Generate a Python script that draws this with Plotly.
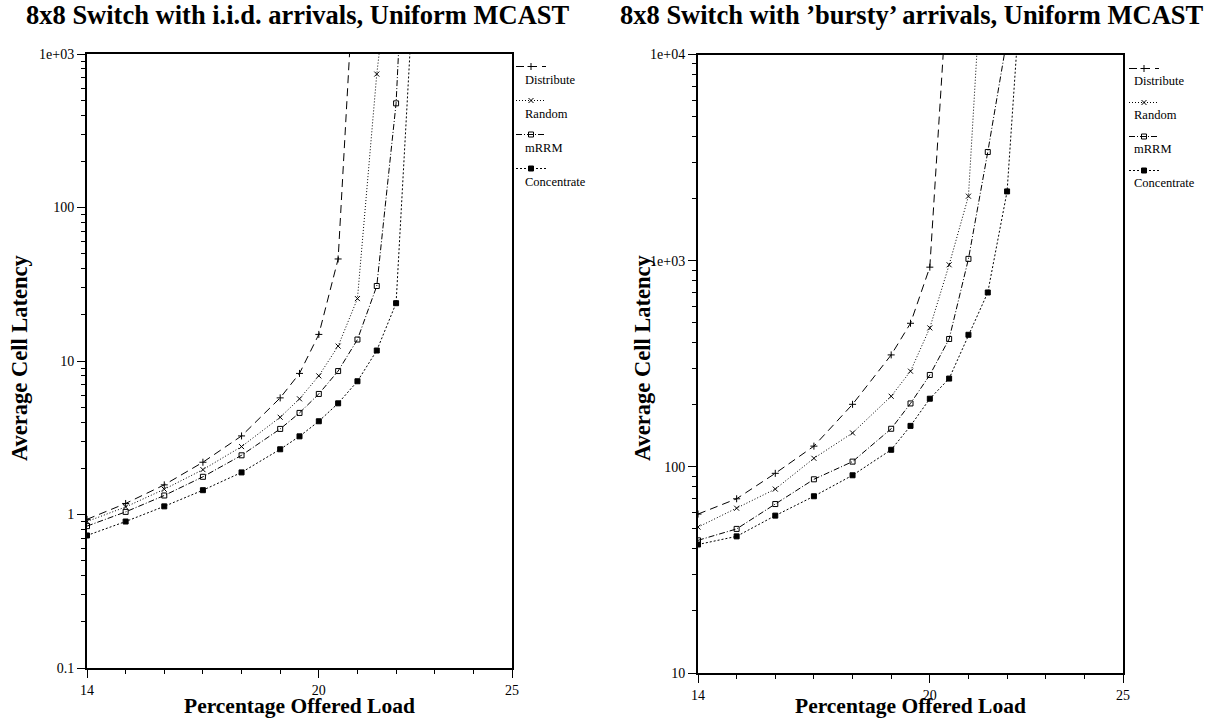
import plotly.graph_objects as go

# ---------------- data ----------------
load_pct = [14, 15, 16, 17, 18, 19, 19.5, 20, 20.5, 21, 21.5, 22, 22.5]

series_names = ["Distribute", "Random", "mRRM", "Concentrate"]

# i.i.d. arrivals (left panel)
iid_distribute = [0.93, 1.18, 1.56, 2.19, 3.25, 5.75, 8.3, 14.9, 46.2, 8500]
iid_random = [0.90, 1.12, 1.46, 1.96, 2.77, 4.3, 5.67, 8.0, 12.5, 25.5, 740, 9000]
iid_mrrm = [0.84, 1.04, 1.33, 1.76, 2.43, 3.61, 4.59, 6.1, 8.6, 13.8, 30.8, 477, 200000]
iid_concentrate = [0.73, 0.90, 1.13, 1.44, 1.88, 2.66, 3.23, 4.05, 5.3, 7.38, 11.7, 23.8, 4500]

# bursty arrivals (right panel)
bursty_distribute = [59, 70, 93, 126, 201, 349, 497, 930, 29000]
bursty_random = [51, 63, 78, 110, 146, 220, 291, 472, 955, 2055, 80000]
bursty_mrrm = [44, 50, 66, 87, 106, 153, 203, 279, 417, 1020, 3366, 12000]
bursty_concentrate = [42, 46, 58, 72, 91, 121, 158, 214, 268, 437, 701, 2167, 52000]

x_tickvals = [14, 20, 25]
x_ticktext = ["14", "20", "25"]
iid_y_tickvals = [0.1, 1, 10, 100, 1000]
iid_y_ticktext = ["0.1", "1", "10", "100", "1e+03"]
bursty_y_tickvals = [10, 100, 1000, 10000]
bursty_y_ticktext = ["10", "100", "1e+03", "1e+04"]

titles = ["8x8 Switch with i.i.d. arrivals, Uniform MCAST",
          "8x8 Switch with \u2019bursty\u2019 arrivals, Uniform MCAST"]
x_title = "Percentage Offered Load"
y_title = "Average Cell Latency"

# ---------------- styling ----------------
W, H = 1210, 719
FONT = "Liberation Serif"

styles = {
    "Distribute": dict(dash="8px,5px", symbol="cross-thin", size=5),
    "Random": dict(dash="1px,2px", symbol="x-thin", size=5),
    "mRRM": dict(dash="6px,2px,1px,2px", symbol="square-open", size=5),
    "Concentrate": dict(dash="2px,2px", symbol="square", size=5),
}


def px_x(p):
    return p / W


def px_y(p):
    return 1 - p / H


fig = go.Figure()

panels = [
    ("x", "y", "legend", [iid_distribute, iid_random, iid_mrrm, iid_concentrate]),
    ("x2", "y2", "legend2", [bursty_distribute, bursty_random, bursty_mrrm, bursty_concentrate]),
]

for xa, ya, lg, data in panels:
    for name, vals in zip(series_names, data):
        st = styles[name]
        fig.add_trace(go.Scatter(
            x=load_pct[:len(vals)], y=vals, mode="lines+markers",
            name=" ", legend=lg, legendgroup=lg + name,
            xaxis=xa, yaxis=ya, hovertext=name,
            line=dict(color="black", width=1, dash=st["dash"]),
            marker=dict(symbol=st["symbol"], size=st["size"], color="black",
                        line=dict(color="black", width=1)),
        ))

minor_x = dict(dtick=1, tick0=14, ticklen=4, ticks="outside", tickcolor="black", tickwidth=1)
minor_x_in = dict(dtick=1, tick0=14, ticklen=4, ticks="inside", tickcolor="black", tickwidth=1)
TICKFONT = dict(family=FONT, size=14, color="black")


def log_minor(lo, hi):
    vals = []
    for e in range(lo, hi):
        for m in range(2, 10):
            vals.append(m * 10 ** e)
    return vals


def xaxis_cfg(domain, anchor):
    return dict(domain=domain, anchor=anchor, range=[14, 25], tickmode="array",
                tickvals=x_tickvals, ticktext=x_ticktext, ticks="outside", ticklen=8,
                tickwidth=1, tickcolor="black", minor=minor_x, showgrid=False,
                zeroline=False, showline=True, linecolor="black", linewidth=2,
                mirror=True, tickfont=TICKFONT)


def xaxis_top(over, anchor):
    return dict(overlaying=over, anchor=anchor, side="top", range=[14, 25],
                tickmode="array", tickvals=x_tickvals, ticks="inside", ticklen=8,
                tickwidth=1, tickcolor="black", minor=minor_x_in, showticklabels=False,
                showgrid=False, zeroline=False, showline=False)


def yaxis_cfg(domain, anchor, rng, tv, tt):
    return dict(domain=domain, anchor=anchor, type="log", range=rng, tickmode="array",
                tickvals=tv, ticktext=tt, ticks="outside", ticklen=8, tickwidth=1,
                tickcolor="black",
                minor=dict(tickvals=log_minor(rng[0], rng[1]), ticks="outside", ticklen=4,
                           tickcolor="black", tickwidth=1),
                showgrid=False, zeroline=False, showline=True, linecolor="black",
                linewidth=2, mirror=True, tickfont=TICKFONT)


def yaxis_right(over, anchor, rng, tv):
    return dict(overlaying=over, anchor=anchor, side="right", type="log", range=rng,
                tickmode="array", tickvals=tv, ticks="inside", ticklen=8, tickwidth=1,
                tickcolor="black",
                minor=dict(tickvals=log_minor(rng[0], rng[1]), ticks="inside", ticklen=4,
                           tickcolor="black", tickwidth=1),
                showticklabels=False, showgrid=False, zeroline=False, showline=False)


L_dom_x = [px_x(87), px_x(512)]
R_dom_x = [px_x(698), px_x(1123)]
L_dom_y = [px_y(668), px_y(54)]
R_dom_y = [px_y(673), px_y(54.5)]

fig.update_layout(
    width=W, height=H,
    margin=dict(l=0, r=0, t=0, b=0, autoexpand=False),
    paper_bgcolor="white", plot_bgcolor="white",
    font=dict(family=FONT, color="black"),
    xaxis=xaxis_cfg(L_dom_x, "y"),
    yaxis=yaxis_cfg(L_dom_y, "x", [-1, 3], iid_y_tickvals, iid_y_ticktext),
    xaxis2=xaxis_cfg(R_dom_x, "y2"),
    yaxis2=yaxis_cfg(R_dom_y, "x2", [1, 4], bursty_y_tickvals, bursty_y_ticktext),
    xaxis3=xaxis_top("x", "y"),
    yaxis3=yaxis_right("y", "x", [-1, 3], iid_y_tickvals),
    xaxis4=xaxis_top("x2", "y2"),
    yaxis4=yaxis_right("y2", "x2", [1, 4], bursty_y_tickvals),
    legend=dict(x=px_x(511), y=px_y(52), xanchor="left", yanchor="top",
                bgcolor="rgba(0,0,0,0)", borderwidth=0, itemwidth=30,
                tracegroupgap=15, font=dict(family=FONT, size=11)),
    legend2=dict(x=px_x(1124), y=px_y(54), xanchor="left", yanchor="top",
                 bgcolor="rgba(0,0,0,0)", borderwidth=0, itemwidth=30,
                 tracegroupgap=15, font=dict(family=FONT, size=11)),
    showlegend=True,
)

annotations = []
# main titles
for cx, t in zip([298, 912], titles):
    annotations.append(dict(x=px_x(cx), y=px_y(15), xref="paper", yref="paper", text="<b>%s</b>" % t,
                            showarrow=False, font=dict(family=FONT, size=26.5, color="black"),
                            xanchor="center", yanchor="middle"))
# x titles
for cx in [299, 910]:
    annotations.append(dict(x=px_x(cx), y=px_y(706), xref="paper", yref="paper",
                            text="<b>%s</b>" % x_title, showarrow=False,
                            font=dict(family=FONT, size=21.5, color="black"),
                            xanchor="center", yanchor="middle"))
# y titles
for cx in [19, 642]:
    annotations.append(dict(x=px_x(cx), y=px_y(358), xref="paper", yref="paper",
                            text="<b>%s</b>" % y_title, showarrow=False, textangle=-90,
                            font=dict(family=FONT, size=22.5, color="black"),
                            xanchor="center", yanchor="middle"))
# legend labels
for lx, y0 in [(523, 80), (1132, 81)]:
    for i, name in enumerate(series_names):
        annotations.append(dict(x=px_x(lx), y=px_y(y0 + 34 * i), xref="paper", yref="paper",
                                text=name, showarrow=False,
                                font=dict(family=FONT, size=12.5, color="black"),
                                xanchor="left", yanchor="middle"))

fig.update_layout(annotations=annotations)

fig.write_html("out.html", config={"displayModeBar": False},
               post_script="document.body.style.margin='0';document.body.style.overflow='hidden';")
